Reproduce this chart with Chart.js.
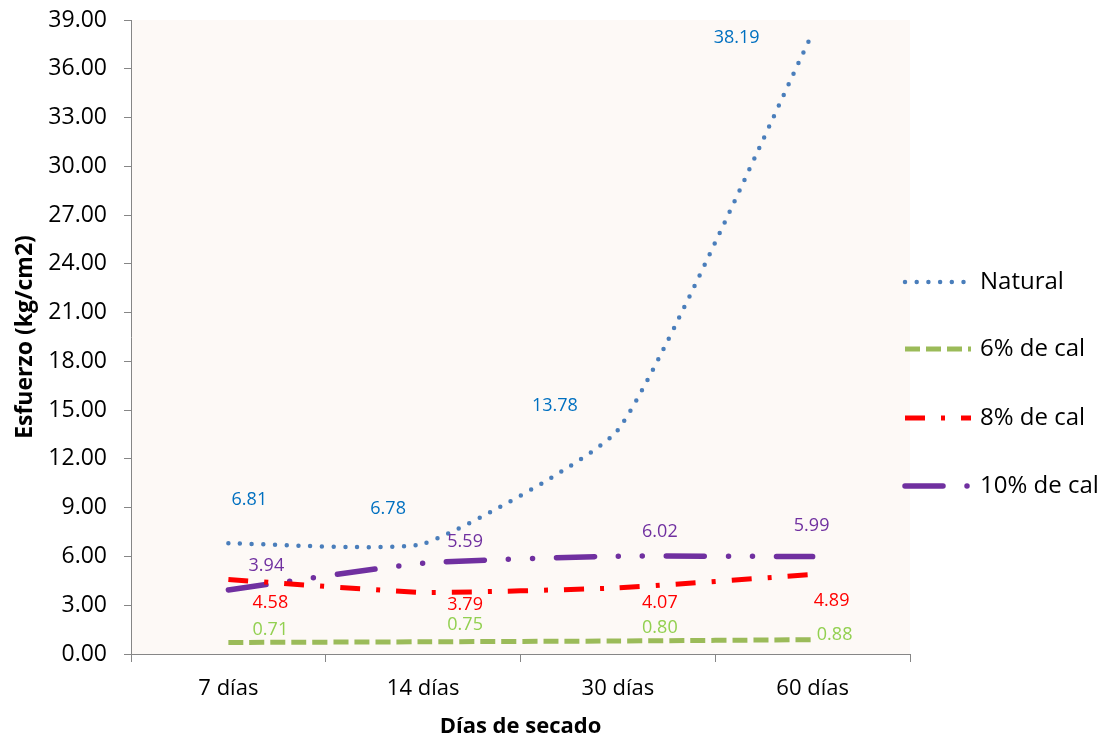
<!DOCTYPE html>
<html><head><meta charset="utf-8">
<script src="https://cdn.jsdelivr.net/npm/chart.js@4"></script>
<style>html,body{margin:0;padding:0;background:#fff}#wrap{width:1105px;height:740px}</style>
</head><body><div id="wrap"><canvas id="c" width="1105" height="740"></canvas></div>
<script>
// ---- data ----
const categories = ['7 días', '14 días', '30 días', '60 días'];
const seriesNames = ['Natural', '6% de cal', '8% de cal', '10% de cal'];
const natural = [6.81, 6.78, 13.78, 38.19];
const cal6 = [0.71, 0.75, 0.80, 0.88];
const cal8 = [4.58, 3.79, 4.07, 4.89];
const cal10 = [3.94, 5.59, 6.02, 5.99];
const yMin = 0, yMax = 39, yStep = 3;
const xTitle = 'Días de secado';
const yTitle = 'Esfuerzo (kg/cm2)';

// ---- style ----
const FONT = "'Open Sans', sans-serif";
const lineColors = ['#4A7EBB', '#9BBB59', '#FF0000', '#7030A0'];
const labelColors = ['#0070C0', '#92D050', '#FF0000', '#7030A0'];
const lineWidths = [4.5, 5, 5, 5.5];
const lineDashes = [[0, 11.7], [15, 6], [20, 16, 4, 16], [38, 24, 0, 24, 0, 24]];
const lineCaps = ['round', 'butt', 'butt', 'round'];
const labelOffsets = [
  [[21, -43], [-35, -35], [-63, -24], [-76, 5]],
  [[42, -13], [42, -17], [42, -13], [22, -5]],
  [[42, 23], [42, 12], [42, 15], [19, 26]],
  [[38, -24], [42, -21], [42, -24], [-1, -31]]
];
const legendYs = [282, 349, 418, 486];

const allSeries = [natural, cal6, cal8, cal10];

const bgPlugin = {
  id: 'bg',
  beforeDraw(chart) {
    const {ctx, chartArea: a} = chart;
    ctx.save();
    ctx.fillStyle = '#FDF9F6';
    ctx.fillRect(a.left, a.top, a.right - a.left, a.bottom - a.top);
    ctx.restore();
  }
};

const labelPlugin = {
  id: 'vlabels',
  afterDatasetsDraw(chart) {
    const ctx = chart.ctx;
    ctx.save();
    ctx.font = '18px ' + FONT;
    ctx.textAlign = 'center';
    ctx.textBaseline = 'middle';
    chart.data.datasets.forEach((ds, i) => {
      const meta = chart.getDatasetMeta(i);
      ctx.fillStyle = labelColors[i];
      meta.data.forEach((p, j) => {
        const o = labelOffsets[i][j];
        ctx.fillText(ds.data[j].toFixed(2), p.x + o[0], p.y + o[1]);
      });
    });
    ctx.restore();
  }
};

const legendPlugin = {
  id: 'customLegend',
  afterDraw(chart) {
    const ctx = chart.ctx;
    ctx.save();
    chart.data.datasets.forEach((ds, i) => {
      const y = legendYs[i];
      ctx.beginPath();
      ctx.strokeStyle = ds.borderColor;
      ctx.lineWidth = ds.borderWidth;
      ctx.lineCap = ds.borderCapStyle;
      ctx.setLineDash(ds.borderDash);
      ctx.lineDashOffset = 0;
      ctx.moveTo(905, y);
      ctx.lineTo(971, y);
      ctx.stroke();
      ctx.setLineDash([]);
      ctx.fillStyle = '#000';
      ctx.font = '24px ' + FONT;
      ctx.textAlign = 'left';
      ctx.textBaseline = 'middle';
      ctx.fillText(ds.label, 980, y);
    });
    ctx.restore();
  }
};

new Chart(document.getElementById('c'), {
  type: 'line',
  data: {
    labels: categories,
    datasets: allSeries.map((d, i) => ({
      label: seriesNames[i],
      data: d,
      borderColor: lineColors[i],
      backgroundColor: lineColors[i],
      borderWidth: lineWidths[i],
      borderDash: lineDashes[i],
      borderCapStyle: lineCaps[i],
      pointRadius: 0,
      fill: false,
      tension: 0.15
    }))
  },
  options: {
    responsive: false,
    animation: false,
    devicePixelRatio: 1,
    layout: {padding: {left: 0, right: 195, top: 20, bottom: 0}},
    plugins: {legend: {display: false}, tooltip: {enabled: false}},
    scales: {
      x: {
        offset: true,
        grid: {display: true, drawOnChartArea: false, drawTicks: true, tickLength: 8, offset: true, color: '#868686'},
        border: {color: '#868686', width: 1},
        ticks: {color: '#000', font: {family: FONT, size: 22}, padding: 14, maxRotation: 0},
        title: {display: true, text: xTitle, color: '#000', font: {family: FONT, size: 22, weight: 'bold'}, padding: {top: 0, bottom: 0}},
        afterFit(s) { s.height = 86; s.paddingLeft = 0; s.paddingRight = 0; }
      },
      y: {
        min: yMin, max: yMax,
        grid: {display: true, drawOnChartArea: false, drawTicks: true, tickLength: 7, color: '#868686'},
        border: {color: '#868686', width: 1},
        ticks: {stepSize: yStep, color: '#000', font: {family: FONT, size: 23}, padding: 17, callback: v => v.toFixed(2)},
        title: {display: true, text: yTitle, color: '#000', font: {family: FONT, size: 23, weight: 'bold'}, padding: {top: 12, bottom: 0}},
        afterFit(s) { s.width = 131; s.paddingTop = 0; s.paddingBottom = 0; }
      }
    }
  },
  plugins: [bgPlugin, labelPlugin, legendPlugin]
});
</script>
</body></html>
